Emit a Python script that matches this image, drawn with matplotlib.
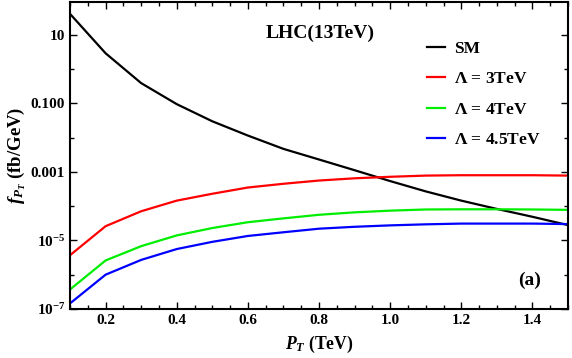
import numpy as np
import matplotlib
matplotlib.use("Agg")
import matplotlib.pyplot as plt
from matplotlib.ticker import FixedLocator, FixedFormatter, MultipleLocator, NullFormatter

plt.rcParams['font.family'] = ['Liberation Serif']
plt.rcParams['font.weight'] = 'bold'
plt.rcParams['mathtext.fontset'] = 'custom'
plt.rcParams['mathtext.rm'] = 'Liberation Serif:bold'
plt.rcParams['mathtext.it'] = 'Liberation Serif:italic:bold'
plt.rcParams['mathtext.bf'] = 'Liberation Serif:bold'

pt = [0.1, 0.2, 0.3, 0.4, 0.5, 0.6, 0.7, 0.8, 0.9, 1.0, 1.1, 1.2, 1.3, 1.4, 1.5]
sm = [41, 2.9, 0.39, 0.095, 0.030, 0.0115, 0.0047, 0.0023, 0.00112, 5.4e-4,
      2.7e-4, 1.45e-4, 8.3e-5, 4.9e-5, 2.8e-5]
lam3 = [3.7e-6, 2.6e-5, 7.1e-5, 1.45e-4, 2.3e-4, 3.5e-4, 4.5e-4, 5.6e-4, 6.5e-4,
        7.2e-4, 7.8e-4, 8.0e-4, 8.0e-4, 8.0e-4, 7.8e-4]
lam4 = [3.7e-7, 2.6e-6, 6.8e-6, 1.4e-5, 2.3e-5, 3.4e-5, 4.4e-5, 5.6e-5, 6.6e-5,
        7.4e-5, 8.0e-5, 8.1e-5, 8.1e-5, 8.0e-5, 7.8e-5]
lam45 = [1.45e-7, 1.0e-6, 2.7e-6, 5.6e-6, 9.1e-6, 1.35e-5, 1.73e-5, 2.2e-5, 2.5e-5,
         2.75e-5, 2.95e-5, 3.1e-5, 3.1e-5, 3.1e-5, 3.0e-5]
labels = ['SM', r'$\Lambda$ = 3TeV', r'$\Lambda$ = 4TeV', r'$\Lambda$ = 4.5TeV']
colors = ['#000000', '#ff0000', '#00ee00', '#0000ff']

ytick_vals = [1e1, 1e-1, 1e-3, 1e-5, 1e-7]
ytick_labels = ['10', '0.100', '0.001', r'$10^{-5}$', r'$10^{-7}$']
xtick_vals = [0.2, 0.4, 0.6, 0.8, 1.0, 1.2, 1.4]

fig = plt.figure(figsize=(5.72, 3.58), dpi=100)
ax = fig.add_axes([0.1224, 0.137, 0.8706, 0.857])

for y, lab, c in zip([sm, lam3, lam4, lam45], labels, colors):
    ax.plot(pt, y, color=c, lw=1.6, label=lab)

ax.set_yscale('log')
ax.set_xlim(0.1, 1.5)
ax.set_ylim(1e-7, 90)

ax.yaxis.set_major_locator(FixedLocator(ytick_vals))
ax.yaxis.set_major_formatter(FixedFormatter(ytick_labels))
ax.yaxis.set_minor_locator(FixedLocator([1e0, 1e-2, 1e-4, 1e-6]))
ax.yaxis.set_minor_formatter(NullFormatter())
ax.xaxis.set_major_locator(FixedLocator(xtick_vals))
ax.xaxis.set_minor_locator(MultipleLocator(0.05))
ax.xaxis.set_minor_formatter(NullFormatter())
ax.set_xticklabels([f'{v:.1f}' for v in xtick_vals])

ax.tick_params(which='both', direction='in', top=True, right=True, labelsize=11, width=1)
ax.tick_params(which='major', length=5)
ax.tick_params(which='minor', length=3)
for s in ax.spines.values():
    s.set_linewidth(1.5)

ax.set_xlabel(r'$P_T$ (TeV)', fontsize=12.7, fontweight='bold', labelpad=5)
ax.set_ylabel(r'$f_{P_T}$ (fb/GeV)', fontsize=13.5, fontweight='bold', labelpad=2)

ax.text(0.502, 0.899, 'LHC(13TeV)', transform=ax.transAxes, fontsize=14,
        fontweight='bold', ha='center', va='center')
ax.text(0.922, 0.094, '(a)', transform=ax.transAxes, fontsize=14,
        fontweight='bold', ha='center', va='center')

leg = ax.legend(loc='upper left', bbox_to_anchor=(0.717, 0.874), frameon=False,
                fontsize=12.5, handlelength=1.05, handletextpad=0.5, labelspacing=0.82,
                borderpad=0, borderaxespad=0)
for t in leg.get_texts():
    t.set_fontweight('bold')

fig.savefig('out.png', dpi=100)
